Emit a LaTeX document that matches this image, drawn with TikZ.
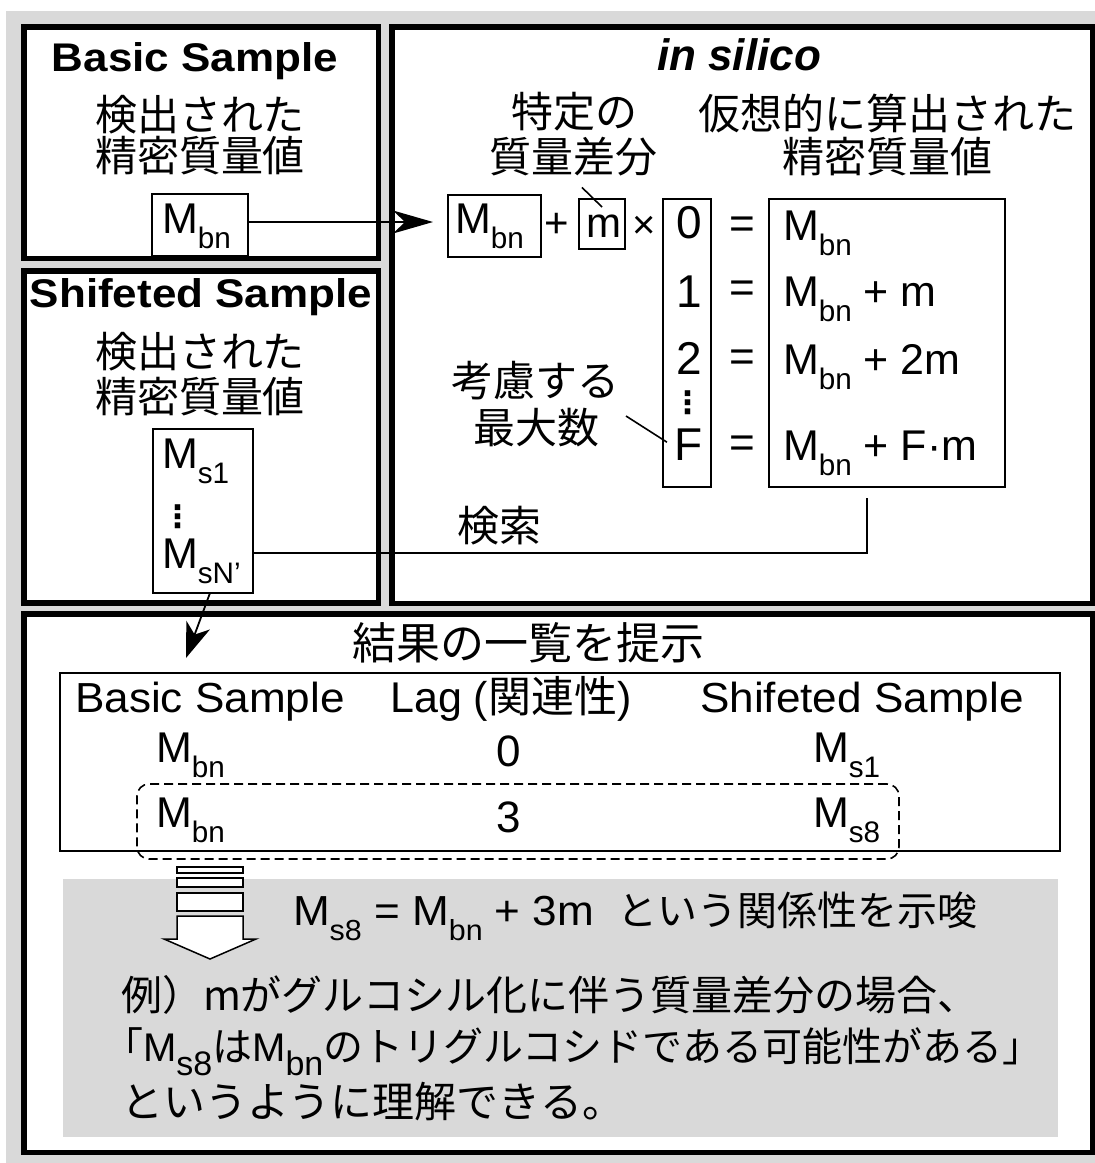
\documentclass[tikz,border=0pt]{standalone}
\usepackage{fontspec}
\usepackage{graphicx}
\setmainfont{Liberation Sans}
\newfontfamily\jp{Noto Sans CJK JP}
\newfontfamily\dv{DejaVu Sans}
\usetikzlibrary{arrows.meta,calc}
\definecolor{bg}{RGB}{217,217,217}
\newcommand\Msub[2][0.69]{M\raisebox{-0.36em}{\scalebox{#1}{#2}}}
\newcommand\fs[1]{\fontsize{#1}{#1}\selectfont}
\begin{document}
\begin{tikzpicture}[x=1pt,y=-1pt,
  every node/.style={inner sep=0pt,outer sep=0pt},
  frame/.style={draw=black,line width=5.5pt,fill=white},
  box/.style={draw=black,line width=2pt},
  lead/.style={line width=1.6pt},
  conn/.style={line width=1.8pt},
  bigarrow/.style={line width=1.8pt,-{Stealth[length=40pt,width=23pt,inset=12pt]}},
  smallarrow/.style={line width=1.8pt,-{Stealth[length=35pt,width=25pt,inset=10pt]}},
  blockpart/.style={draw=black,line width=1.5pt,fill=white}]
\useasboundingbox (0,0) rectangle (1095,1163);
\fill[white] (0,0) rectangle (1095,1163);
\fill[bg] (6,11) rectangle (1095,1163);
% frames
\draw[frame] (23.75,26.75) rectangle (378.25,258.25);
\draw[frame] (23.75,270.75) rectangle (378.25,602.75);
\draw[frame] (391.75,26.75) rectangle (1092.5,603.25);
\draw[frame] (23.75,613.75) rectangle (1092.5,1152.25);
% Basic sample
\node[anchor=base] (t1) at (195,71) {\scalebox{1.1}[1]{\fs{40}\bfseries Basic Sample}};
\node (b1) at (200,114.5) {\jp\fs{42}検出された};
\node (b2) at (200,156) {\jp\fs{42}精密質量値};
\node[box,minimum width=96pt,minimum height=62pt] (mb1) at (200,225) {};
\node[anchor=base west] (mb1t) at (162,233) {\fs{43}\Msub{bn}};
% Shifted sample
\node[anchor=base] (t2) at (201,307) {\scalebox{1.1}[1]{\fs{40}\bfseries Shifeted Sample}};
\node (s1) at (200,352) {\jp\fs{42}検出された};
\node (s2) at (200,397) {\jp\fs{42}精密質量値};
\node[box,minimum width=100pt,minimum height=164pt] (ms) at (203,511) {};
\node[anchor=base west] (ms1) at (162,468) {\fs{43}\Msub{s1}};
\node (msd) at (178,517) {\dv\bfseries\fs{31}⋮};
\node[anchor=base west] (msn) at (162,568) {\fs{43}\Msub{sN’}};
% in silico
\node[anchor=base] (t3) at (739,70) {\fs{44}\bfseries\itshape in silico};
\node (q1) at (574,112) {\jp\fs{42}特定の};
\node (q2) at (573,157) {\jp\fs{42}質量差分};
\node (v1) at (887,113) {\jp\fs{42}仮想的に算出された};
\node (v2) at (887,157) {\jp\fs{42}精密質量値};
\node[box,minimum width=93pt,minimum height=62pt] (mb2) at (494.5,226) {};
\node[anchor=base west] (mb2t) at (455,233) {\fs{43}\Msub{bn}};
\node[anchor=base] (plus) at (557,237) {\fs{42}+};
\node[box,minimum width=46pt,minimum height=50pt] (mm) at (602,224) {};
\node[anchor=base] (mmt) at (603.5,237) {\fs{42}m};
\node (times) at (644,227) {\fs{40}×};
\node[box,minimum width=48pt,minimum height=288pt] (idx) at (687,343) {};
\node[anchor=base] (i0) at (689,238) {\fs{46}0};
\node[anchor=base] (i1) at (689,307) {\fs{46}1};
\node[anchor=base] (i2) at (689,374) {\fs{46}2};
\node (idots) at (688,403) {\dv\bfseries\fs{31}⋮};
\node[anchor=base] (iF) at (689,460) {\fs{46}F};
\node (e0) at (742,228) {\fs{44}=};
\node (e1) at (742,292) {\fs{44}=};
\node (e2) at (742,361) {\fs{44}=};
\node (eF) at (742,447) {\fs{44}=};
\node[box,minimum width=236pt,minimum height=288pt] (res) at (887,343) {};
\node[anchor=base west] (r0) at (783,240) {\fs{43}\Msub{bn}};
\node[anchor=base west] (r1) at (783,306) {\fs{43}\Msub{bn} + m};
\node[anchor=base west] (r2) at (783,374) {\fs{43}\Msub{bn} + 2m};
\node[anchor=base west] (rF) at (783,460) {\fs{43}\Msub{bn} + F·m};
\node (k1) at (535,381) {\jp\fs{42}考慮する};
\node (k2) at (536,428) {\jp\fs{42}最大数};
\node (srch) at (499,526) {\jp\fs{42}検索};
% connectors in upper part
\draw[bigarrow,shorten >=15pt] ([yshift=3pt]mb1.east) -- ([yshift=3pt]mb1.east -| mb2.west);
\draw[lead] ([xshift=9pt,yshift=-11pt]q2.south) -- ([yshift=-8pt]mm.north);
\draw[lead] ([xshift=27pt,yshift=12pt]k2.east) -- ([xshift=-8pt,yshift=2pt]iF.west);
\draw[conn] ([xshift=-20pt,yshift=-11pt]res.south) |- ([yshift=-42pt]ms.east);
% results
\node (title4) at (528,643) {\jp\fs{44}結果の一覧を提示};
\node[box,minimum width=1000pt,minimum height=178pt] (tab) at (560,762) {};
\node[anchor=base] (h1) at (210,712) {\scalebox{1.05}[1]{\fs{42}Basic Sample}};
\node[anchor=base] (h2) at (511,712) {\fs{43}Lag ({\jp 関連性})};
\node[anchor=base] (h3) at (862,712) {\scalebox{1.05}[1]{\fs{42}Shifeted Sample}};
\node[anchor=base west] (c11) at (156,762) {\fs{43}\Msub{bn}};
\node[anchor=base] (c12) at (509,766) {\fs{44}0};
\node[anchor=base west] (c13) at (813,762) {\fs{43}\Msub{s1}};
\node[anchor=base west] (c21) at (156,827) {\fs{43}\Msub{bn}};
\node[anchor=base] (c22) at (509,832) {\fs{44}3};
\node[anchor=base west] (c23) at (813,827) {\fs{43}\Msub{s8}};
\node[draw,line width=1.6pt,rounded corners=12pt,dash pattern=on 9pt off 5pt,minimum width=762pt,minimum height=75pt] (hl) at (518,821.5) {};
\coordinate (tip) at (186,658);
\draw[smallarrow] ([xshift=7pt]ms.south) -- (tip);
% conclusion
\fill[bg] (63,879) rectangle (1058,1137);
\draw[blockpart] (177,867) rectangle (243,873);
\draw[blockpart] (177,878) rectangle (243,887);
\draw[blockpart] (177,893) rectangle (243,911);
\draw[blockpart] (177,916) -- (243,916) -- (243,939) -- (256,939) -- (210,959) -- (164,939) -- (177,939) -- cycle;
\node[anchor=base west] (f1) at (293,925) {\scalebox{1.05}[1]{\fs{42}\Msub{s8} = \Msub{bn} + 3m}};
\node[anchor=base west] (f2) at (617,925) {\jp\fs{40}という関係性を示唆};
\node[anchor=base west] (l1) at (121,1010) {\jp\fs{41}例）mがグルコシル化に伴う質量差分の場合、};
\node[anchor=base west] (l2) at (103,1061) {\fs{40}{\jp 「}\Msub[0.85]{s8}{\jp は}\Msub[0.85]{bn}{\jp のトリグルコシドである可能性がある」}};
\node[anchor=base west] (l3) at (121,1117) {\jp\fs{42}というように理解できる。};
\end{tikzpicture}
\end{document}
